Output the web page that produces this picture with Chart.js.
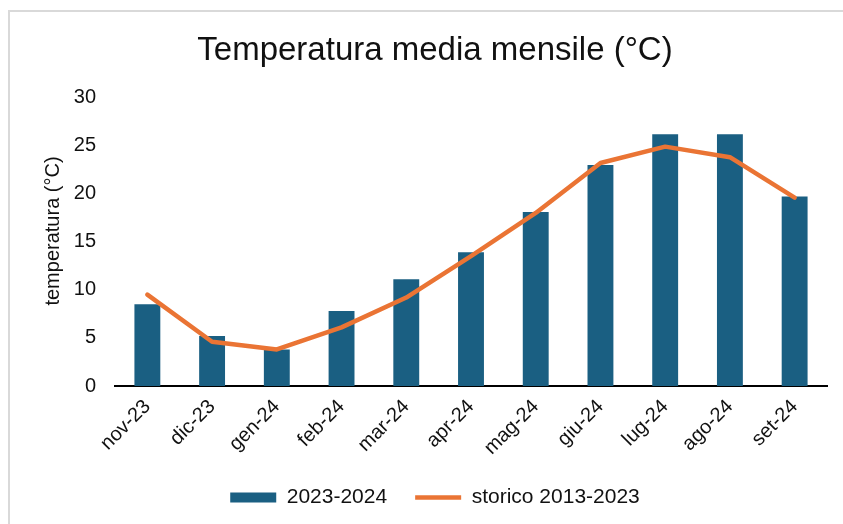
<!DOCTYPE html>
<html>
<head>
<meta charset="utf-8">
<script src="https://cdn.jsdelivr.net/npm/chart.js@4"></script>
<style>
  html, body { margin: 0; padding: 0; background: #fff; overflow: hidden; }
  #wrap { position: relative; width: 843px; height: 524px; overflow: hidden; }
  #frame { position: absolute; left: 8px; top: 10px; width: 900px; height: 600px;
           border-left: 2px solid #d9d9d9; border-top: 2px solid #d9d9d9; }
  canvas { position: absolute; left: 0; top: 0; }
</style>
</head>
<body>
<div id="wrap">
  <div id="frame"></div>
  <canvas id="c" width="843" height="524"></canvas>
</div>
<script>
// monthly mean temperature
const months = ["nov-23", "dic-23", "gen-24", "feb-24", "mar-24", "apr-24",
                "mag-24", "giu-24", "lug-24", "ago-24", "set-24"];
const season = [8.5, 5.2, 3.8, 7.8, 11.1, 13.9, 18.1, 23.0, 26.2, 26.2, 19.7];
const storico = [9.5, 4.6, 3.8, 6.1, 9.2, 13.5, 18.0, 23.2, 24.9, 23.8, 19.6];
const yTicks = [0, 5, 10, 15, 20, 25, 30];

const BAR = "#1a5f82";
const ORANGE = "#ea7434";
const FONT = "'Liberation Sans', Arial, sans-serif";
const INK = "#111";

// y-axis title drawn by hand so it can sit where the reference puts it
const yTitle = {
  id: "yTitle",
  afterDraw(chart) {
    const g = chart.ctx;
    g.save();
    g.translate(53, 231);
    g.rotate(-Math.PI / 2);
    g.font = `20px ${FONT}`;
    g.fillStyle = INK;
    g.textAlign = "center";
    g.textBaseline = "middle";
    g.fillText("temperatura (°C)", 0, 0);
    g.restore();
  },
};

new Chart(document.getElementById("c"), {
  data: {
    labels: months,
    datasets: [
      {
        type: "bar",
        label: "2023-2024",
        data: season,
        backgroundColor: BAR,
        borderWidth: 0,
        barPercentage: 0.4,
        categoryPercentage: 1.0,
        order: 1,
        pointStyle: "rect",
      },
      {
        type: "line",
        label: "storico 2013-2023",
        data: storico,
        borderColor: ORANGE,
        backgroundColor: ORANGE,
        borderWidth: 4.5,
        borderCapStyle: "round",
        borderJoinStyle: "round",
        pointRadius: 0,
        tension: 0,
        order: 0,
        pointStyle: "line",
      },
    ],
  },
  options: {
    responsive: false,
    animation: false,
    layout: { padding: { left: 43, right: 16, top: 0, bottom: 6 } },
    plugins: {
      tooltip: { enabled: false },
      title: {
        display: true,
        text: "Temperatura media mensile (°C)",
        color: INK,
        font: { family: FONT, size: 33, weight: "normal" },
        padding: { top: 31, bottom: 27 },
      },
      legend: {
        position: "bottom",
        labels: {
          color: INK,
          font: { family: FONT, size: 21 },
          usePointStyle: true,
          pointStyleWidth: 46,
          boxHeight: 10,
          padding: 28,
          sort: (a, b) => a.datasetIndex - b.datasetIndex,
        },
      },
    },
    scales: {
      x: {
        grid: { display: false, drawTicks: false },
        border: { display: true, color: "#000", width: 2 },
        ticks: {
          color: INK,
          font: { family: FONT, size: 20 },
          minRotation: 45,
          maxRotation: 45,
          padding: 9,
        },
        afterFit: (s) => { s.height = 73; },
      },
      y: {
        min: 0,
        max: 30,
        grid: { display: false, drawTicks: false },
        border: { display: false },
        afterBuildTicks: (s) => { s.ticks = yTicks.map((v) => ({ value: v })); },
        ticks: {
          color: INK,
          font: { family: FONT, size: 20 },
          padding: 19,
        },
        afterFit: (s) => { s.width = 72; },
      },
    },
  },
  plugins: [yTitle],
});
</script>
</body>
</html>
